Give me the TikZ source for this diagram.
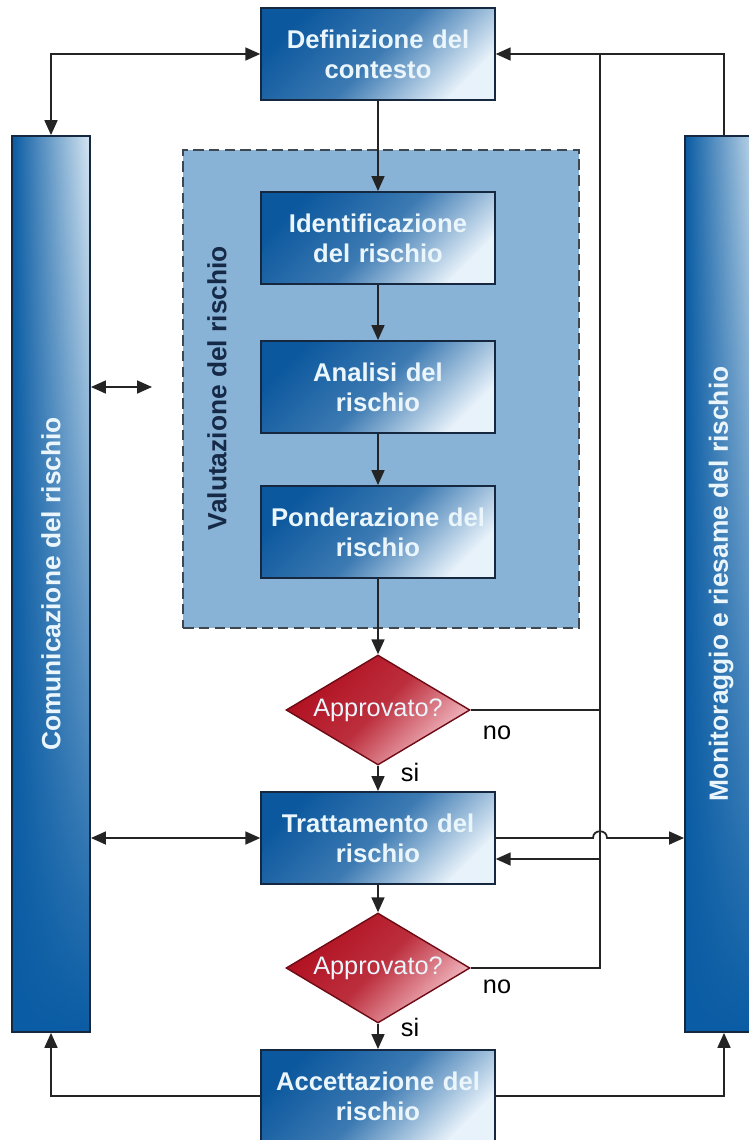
\documentclass[tikz,border=0pt]{standalone}
\usepackage{fontspec}
\setmainfont{Liberation Sans}
\usetikzlibrary{shapes.geometric,arrows.meta,calc,fadings}

\definecolor{boxdark}{RGB}{12,88,158}
\definecolor{boxlight}{RGB}{232,242,250}
\definecolor{boxline}{RGB}{22,40,64}
\definecolor{boxtext}{RGB}{234,246,252}
\definecolor{coldark}{RGB}{10,92,164}
\definecolor{collight}{RGB}{214,230,242}
\definecolor{decdark}{RGB}{176,14,30}
\definecolor{declight}{RGB}{246,196,204}
\definecolor{decline}{RGB}{110,10,20}
\definecolor{valfill}{RGB}{136,179,214}
\definecolor{valline}{RGB}{62,70,80}
\definecolor{valtext}{RGB}{22,42,72}
\definecolor{wirecol}{RGB}{36,36,36}

\begin{document}
\begin{tikzpicture}[x=0.02cm, y=-0.02cm,
  box/.style={draw=boxline, line width=1.1pt, minimum width=4.66cm, minimum height=1.84cm,
    text width=4.6cm, align=center, inner sep=1pt,
    top color=boxdark, bottom color=boxlight, middle color=boxdark!78!boxlight, shading angle=45,
    text=boxtext, font=\fontsize{14.6}{17}\selectfont\bfseries},
  dec/.style={diamond, aspect=1.65, draw=decline, line width=0.8pt, minimum width=3.68cm,
    minimum height=2.2cm, inner sep=0pt,
    top color=decdark, bottom color=declight, middle color=decdark!82!declight, shading angle=45,
    text=boxtext, font=\fontsize{14.4}{17}\selectfont},
  col/.style={draw=boxline, line width=1.1pt, minimum width=1.56cm, minimum height=17.92cm,
    fill=coldark,
    path picture={\fill[left color=coldark, right color=collight, path fading=south]
      (path picture bounding box.north west) rectangle (path picture bounding box.south east);}},
  coltext/.style={rotate=90, text=boxtext, font=\fontsize{15}{17}\selectfont\bfseries},
  valbox/.style={draw=valline, dash pattern=on 6pt off 3pt, line width=1.6pt, fill=valfill,
    minimum width=7.92cm, minimum height=9.56cm},
  lbl/.style={text=black, font=\fontsize{14.4}{17}\selectfont},
  wire/.style={draw=wirecol, line width=1pt},
  arr/.style={wire, -{Triangle[length=3mm,width=2.6mm]}},
  dbl/.style={wire, {Triangle[length=3mm,width=2.6mm]}-{Triangle[length=3mm,width=2.6mm]}}
]
\useasboundingbox (0,0) rectangle (749,1140);

% assessment frame
\node[valbox] (val) at (381,389) {};
\node[coltext, text=valtext] (valt) at (217,388) {Valutazione del rischio};

% side columns
\node[col] (com) at (51,584) {};
\node[coltext] (comt) at (51,584) {Comunicazione del rischio};
\node[col] (mon) at (724,584) {};
\node[coltext] (mont) at (721,584) {Monitoraggio e riesame del rischio};

% main flow
\node[box] (def) at (378,54)   {Definizione del\\contesto};
\node[box] (ide) at (378,238)  {Identificazione\\del rischio};
\node[box] (ana) at (378,387)  {Analisi del\\rischio};
\node[box] (pon) at (378,532)  {Ponderazione del\\rischio};
\node[dec] (ap1) at (378,710)  {Approvato?};
\node[box] (tra) at (378,838)  {Trattamento del\\rischio};
\node[dec] (ap2) at (378,968)  {Approvato?};
\node[box] (acc) at (378,1096) {Accettazione del\\rischio};

\node[lbl] (no1) at (497,733)  {no};
\node[lbl] (si1) at (410,772)  {si};
\node[lbl] (no2) at (497,987)  {no};
\node[lbl] (si2) at (410,1027) {si};

\coordinate (bus) at (600,54);
\coordinate (hop) at (600,838);
\coordinate (ret) at (600,859);
\coordinate (vl)  at (152,387);

\draw[arr] (def) -- (ide);
\draw[arr] (ide) -- (ana);
\draw[arr] (ana) -- (pon);
\draw[arr] (pon) -- (ap1);
\draw[arr] (ap1) -- (tra);
\draw[arr] (tra) -- (ap2);
\draw[arr] (ap2) -- (acc);

\draw[dbl] (com.north) |- (def.west);
\draw[dbl] (com.east |- vl) -- (vl);
\draw[dbl] (com.east |- tra.west) -- (tra.west);
\draw[arr] (acc.west) -| (com.south);
\draw[arr] (acc.east) -| (mon.south);

% feedback
\draw[wire] (mon.north) |- (bus);
\draw[arr] (ap2.east) -| (bus) -- (def.east);
\draw[wire] (ap1.east) -- (ap1.east -| bus);
\draw[arr] (ret) -- (ret -| tra.east);
\draw[arr] (tra.east) -- ($(hop)+(-7,0)$) .. controls ($(hop)+(-7,-9)$) and ($(hop)+(7,-9)$) .. ($(hop)+(7,0)$) -- (hop -| mon.west);
\end{tikzpicture}
\end{document}
